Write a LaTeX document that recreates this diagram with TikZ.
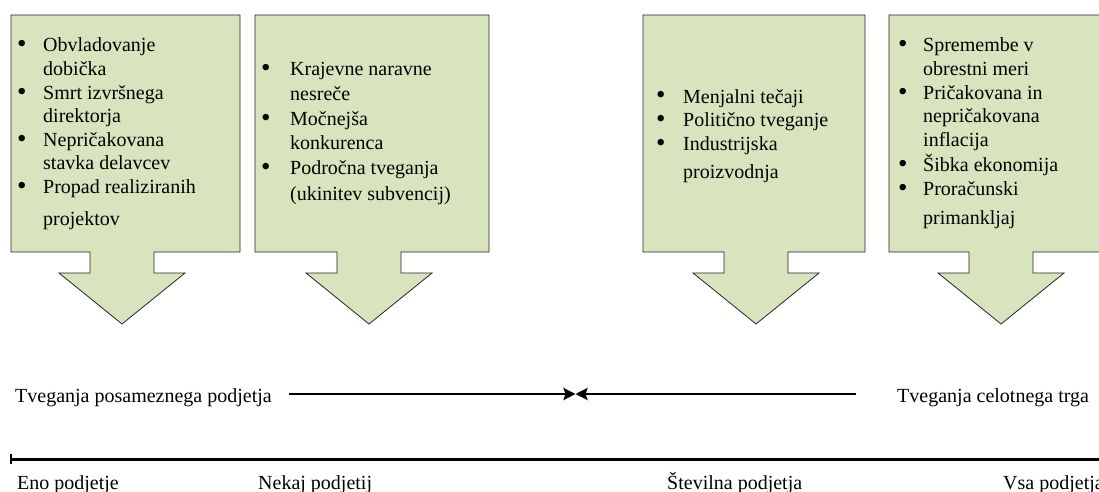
\documentclass[tikz,border=0pt]{standalone}
\usepackage{fontspec}
\setmainfont{Liberation Serif}
\usetikzlibrary{arrows.meta}
\definecolor{boxfill}{HTML}{D7E4BD}
\tikzset{
  bigarrow/.style={fill=boxfill, draw=black!85, line width=0.8pt, line join=miter},
  boxtext/.style={anchor=base west, inner sep=0pt, font=\fontsize{20}{23.6}\selectfont},
  lbl/.style={anchor=base west, inner sep=0pt, font=\fontsize{20}{23.6}\selectfont},
  riskline/.style={line width=2.5pt},
  axisline/.style={line width=3pt},
}
\newcommand{\bul}{\raisebox{-0.05em}{\scalebox{1.35}{\textbullet}}}
\newcommand{\bigarrowpath}[3]{%
  \path[bigarrow] (#1,15) -- (#2,15) -- (#2,252) -- ({#3+32},252) -- ({#3+32},273)
    -- ({#3+63},273) -- (#3,324) -- ({#3-63},273) -- ({#3-32},273) -- ({#3-32},252)
    -- (#1,252) -- cycle;}
\begin{document}
\begin{tikzpicture}[x=1pt,y=-1pt]
\useasboundingbox (0,0) rectangle (1099,492);
\clip (0,0) rectangle (1099,492);

% big arrows
\bigarrowpath{11}{240}{122}
\bigarrowpath{255}{489}{369}
\bigarrowpath{643}{865}{756}
\bigarrowpath{889}{1111}{1001}

% texts in boxes
\node[boxtext] (t1) at (17,52) {\begin{tabular}[t]{@{}p{26pt}@{}l@{}}
\bul & Obvladovanje\\
 & dobička\\
\bul & Smrt izvršnega\\
 & direktorja\\
\bul & Nepričakovana\\
 & stavka delavcev\\
\bul & Propad realiziranih\\[8pt]
 & projektov
\end{tabular}};

\node[boxtext] (t2) at (261,76) {\begin{tabular}[t]{@{}p{29pt}@{}l@{}}
\bul & Krajevne naravne\\[1pt]
 & nesreče\\[1pt]
\bul & Močnejša\\[1pt]
 & konkurenca\\[1pt]
\bul & Področna tveganja\\[3pt]
 & (ukinitev subvencij)
\end{tabular}};

\node[boxtext] (t3) at (656,103) {\begin{tabular}[t]{@{}p{27pt}@{}l@{}}
\bul & Menjalni tečaji\\
\bul & Politično tveganje\\
\bul & Industrijska\\[5pt]
 & proizvodnja
\end{tabular}};

\node[boxtext] (t4) at (898,52) {\begin{tabular}[t]{@{}p{25pt}@{}l@{}}
\bul & Spremembe v\\
 & obrestni meri\\
\bul & Pričakovana in\\
 & nepričakovana\\
 & inflacija\\[1pt]
\bul & Šibka ekonomija\\
\bul & Proračunski\\[6pt]
 & primankljaj
\end{tabular}};

% risk labels and converging arrows
\node[lbl] (tpos) at (15,402) {Tveganja posameznega podjetja};
\node[lbl] (tcel) at (897,402) {Tveganja celotnega trga};
\coordinate (lstart) at (289,394);
\coordinate (rstart) at (856,394);
\coordinate (meet) at (575.5,394);
\draw[riskline, -{Stealth[length=12pt,width=12pt,inset=2pt]}] (lstart) -- (meet);
\draw[riskline, -{Stealth[length=12pt,width=12pt,inset=2pt]}] (rstart) -- (meet);

% number of firms axis
\coordinate (ax0) at (10,459);
\coordinate (ax1) at (1105,459);
\draw[axisline, {Bar[width=10pt,line width=2pt]}-] (ax0) -- (ax1);
\node[lbl] (f1) at (17,489) {Eno podjetje};
\node[lbl] (f2) at (258,489) {Nekaj podjetij};
\node[lbl] (f3) at (667,489) {Številna podjetja};
\node[lbl] (f4) at (1003,489) {Vsa podjetja};
\end{tikzpicture}
\end{document}
